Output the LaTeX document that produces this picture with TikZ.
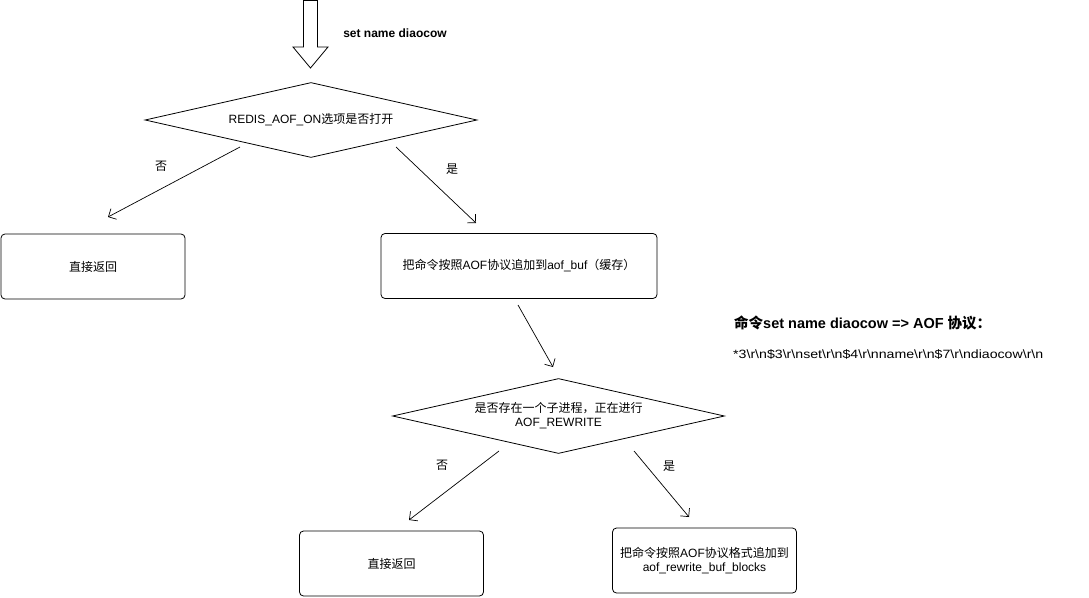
\documentclass[tikz,border=0pt]{standalone}
\usepackage{fontspec}
\setmainfont{Liberation Sans}
\newfontfamily\cjk{Noto Sans CJK SC}
\usetikzlibrary{shapes.geometric,arrows.meta}
\def\rn{\textbackslash r\textbackslash n}

\begin{document}
\begin{tikzpicture}[x=1pt,y=-1pt,
    every node/.style={font=\fontsize{12}{14}\selectfont},
    box/.style={draw,rounded corners=4pt,line width=0.8pt,minimum width=184pt,minimum height=65pt,align=center},
    cond/.style={draw,diamond,line width=0.8pt,shape aspect=4.43,minimum width=332pt,minimum height=75pt,inner sep=0pt,align=center},
    arr/.style={-{Straight Barb[length=6pt,width=12pt]},line width=0.7pt}]
  \useasboundingbox (0,0) rectangle (1089,597);

  % input arrow
  \draw[line width=0.8pt] (303.5,0.5) -- (303.5,47) -- (293,47) -- (310.5,68) -- (328,47) -- (317.5,47) -- (317.5,0.5) -- cycle;
  \node[font=\bfseries\fontsize{12}{14}\selectfont] (cmd) at (395,33) {set name diaocow};

  % nodes
  \node[cond] (aofon) at (311,120) {REDIS\_AOF\_ON{\cjk 选项是否打开}};
  \node[box] (ret1) at (93,266.5) {{\cjk 直接返回}};
  \node[box,minimum width=276pt] (aofbuf) at (519,266) {{\cjk 把命令按照}AOF{\cjk 协议追加到}aof\_buf{\cjk （缓存）}};
  \node[cond] (child) at (558.5,416) {{\cjk 是否存在一个子进程，正在进行}\\AOF\_REWRITE};
  \node[box] (ret2) at (391.5,563.5) {{\cjk 直接返回}};
  \node[box] (rwbuf) at (704.5,560.5) {{\cjk 把命令按照}AOF{\cjk 协议格式追加到}\\aof\_rewrite\_buf\_blocks};

  % arrow ends
  \coordinate (aofon-no) at (240,147);
  \coordinate (ret1-in) at (108,217);
  \coordinate (aofon-yes) at (396,147);
  \coordinate (aofbuf-in) at (476,223);
  \coordinate (aofbuf-out) at (518,305);
  \coordinate (child-in) at (553,367);
  \coordinate (child-no) at (499,451);
  \coordinate (ret2-in) at (409,520);
  \coordinate (child-yes) at (634,451);
  \coordinate (rwbuf-in) at (689,517);

  \draw[arr] (aofon-no) -- (ret1-in);
  \draw[arr] (aofon-yes) -- (aofbuf-in);
  \draw[arr] (aofbuf-out) -- (child-in);
  \draw[arr] (child-no) -- (ret2-in);
  \draw[arr] (child-yes) -- (rwbuf-in);

  % labels
  \node (no1) at (161,166) {\cjk 否};
  \node (yes1) at (452,169) {\cjk 是};
  \node (no2) at (442,465) {\cjk 否};
  \node (yes2) at (669,466) {\cjk 是};

  % protocol note
  \node[anchor=west,inner xsep=0pt,font=\bfseries\fontsize{14.5}{18}\selectfont] (note) at (734,323) {{\cjk\bfseries 命令}set name diaocow => AOF {\cjk\bfseries 协议：}};
  \node[anchor=west,inner xsep=0pt] (proto) at (733,354) {\scalebox{1.18}[1]{*3\rn\$3\rn set\rn\$4\rn name\rn\$7\rn diaocow\rn}};
\end{tikzpicture}
\end{document}
